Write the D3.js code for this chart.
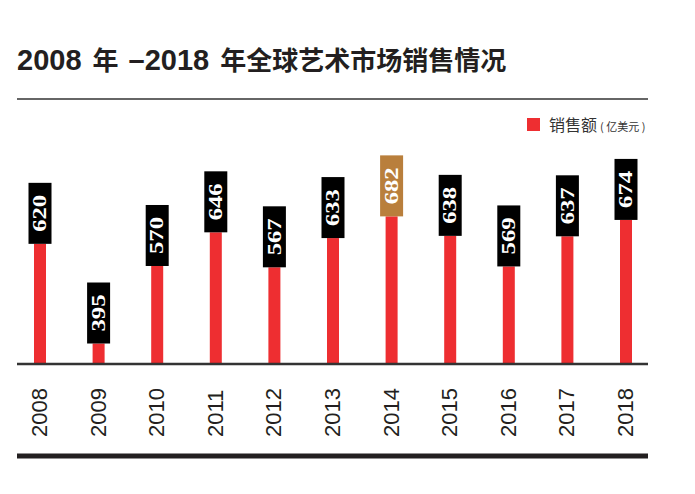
<!DOCTYPE html>
<html>
<head>
<meta charset="utf-8">
<script src="https://cdn.jsdelivr.net/npm/d3@7"></script>
<style>
  body { margin: 0; background: #fff; }
  svg { display: block; }
</style>
</head>
<body>
<svg id="chart" width="695" height="494"></svg>
<script>
// 数据
const years = ['2008', '2009', '2010', '2011', '2012', '2013', '2014', '2015', '2016', '2017', '2018'];
const sales = [620, 395, 570, 646, 567, 633, 682, 638, 569, 637, 674];
const highlightYear = '2014';

const svg = d3.select('#chart');
const ink = '#231f20';
const red = '#ee2e31';

// 标题
const title = svg.append('text')
  .attr('x', 17)
  .attr('y', 70)
  .attr('fill', ink)
  .attr('font-weight', 'bold');
const titleParts = [
  ['2008', 'Liberation Sans', 29, 0],
  ['年', 'Noto Sans CJK SC', 26, 11],
  ['\u20132018', 'Liberation Sans', 29, 10],
  ['年全球艺术市场销售情况', 'Noto Sans CJK SC', 26, 11]
];
titleParts.forEach(p => {
  title.append('tspan')
    .attr('font-family', p[1])
    .attr('font-size', p[2])
    .attr('dx', p[3])
    .text(p[0]);
});

// 上方分隔线
svg.append('line')
  .attr('x1', 17).attr('x2', 648)
  .attr('y1', 99).attr('y2', 99)
  .attr('stroke', '#333').attr('stroke-width', 1.5);

// 比例尺
const x = d3.scalePoint().domain(years).range([40, 626]);
const y = d3.scaleLinear().domain([351, 700]).range([363, 208.4]);
const baseY = y(351);

// 柱子
svg.selectAll('.bar')
  .data(years)
  .enter().append('rect')
  .attr('class', 'bar')
  .attr('x', d => x(d) - 6)
  .attr('width', 12)
  .attr('y', (d, i) => y(sales[i]))
  .attr('height', (d, i) => baseY - y(sales[i]))
  .attr('fill', red);

// 数值标签框
const boxH = 61;
const labels = svg.selectAll('.lbl')
  .data(years)
  .enter().append('g')
  .attr('class', 'lbl')
  .attr('transform', (d, i) => `translate(${x(d)},${y(sales[i]) - boxH / 2})`);

labels.append('rect')
  .attr('x', -11.5)
  .attr('y', -boxH / 2)
  .attr('width', 23)
  .attr('height', boxH)
  .attr('fill', d => d === highlightYear ? '#b97f3c' : '#000');

labels.append('text')
  .attr('transform', 'rotate(-90)')
  .attr('text-anchor', 'middle')
  .attr('dy', '0.34em')
  .attr('font-family', 'Liberation Serif')
  .attr('font-weight', 'bold')
  .attr('font-size', 18)
  .attr('textLength', 37)
  .attr('lengthAdjust', 'spacingAndGlyphs')
  .attr('fill', '#fff')
  .text((d, i) => sales[i]);

// 基线
svg.append('line')
  .attr('x1', 17).attr('x2', 648)
  .attr('y1', baseY + 1).attr('y2', baseY + 1)
  .attr('stroke', '#333').attr('stroke-width', 2.5);

// 年份
svg.selectAll('.year')
  .data(years)
  .enter().append('text')
  .attr('class', 'year')
  .attr('transform', d => `translate(${x(d) - 1},437) rotate(-90)`)
  .attr('dy', '0.36em')
  .attr('font-family', 'Liberation Sans')
  .attr('font-size', 22)
  .attr('fill', ink)
  .text(d => d);

// 底部粗线
svg.append('line')
  .attr('x1', 17).attr('x2', 648)
  .attr('y1', 456).attr('y2', 456)
  .attr('stroke', ink).attr('stroke-width', 5);

// 图例
svg.append('rect')
  .attr('x', 527).attr('y', 118)
  .attr('width', 13).attr('height', 13)
  .attr('fill', red);
const leg = svg.append('text')
  .attr('x', 549).attr('y', 131)
  .attr('font-family', 'Noto Sans CJK SC')
  .attr('fill', '#333');
leg.append('tspan').attr('font-size', 16).text('销售额');
leg.append('tspan').attr('font-size', 11).attr('dx', 3).text('( 亿美元 )');
</script>
</body>
</html>
